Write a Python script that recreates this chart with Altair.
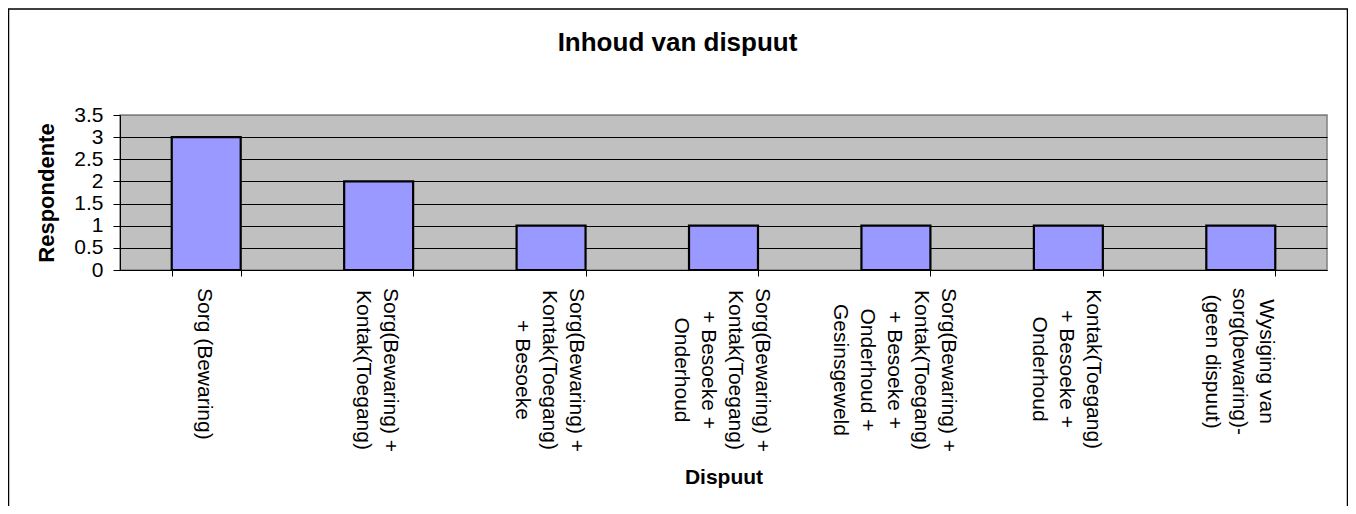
import altair as alt
import pandas as pd

# ---- data ----
categories = [
    "Sorg (Bewaring)",
    "Sorg(Bewaring) +\nKontak(Toegang)",
    "Sorg(Bewaring) +\nKontak(Toegang)\n+ Besoeke",
    "Sorg(Bewaring) +\nKontak(Toegang)\n+ Besoeke +\nOnderhoud",
    "Sorg(Bewaring) +\nKontak(Toegang)\n+ Besoeke +\nOnderhoud +\nGesinsgeweld",
    "Kontak(Toegang)\n+ Besoeke +\nOnderhoud",
    "Wysiging van\nsorg(bewaring)-\n(geen dispuut)",
]
respondente = [3, 2, 1, 1, 1, 1, 1]
y_ticks = [0, 0.5, 1, 1.5, 2, 2.5, 3, 3.5]

title_text = "Inhoud van dispuut"
x_title = "Dispuut"
y_title = "Respondente"

FONT = "Liberation Sans"
LABEL_SIZE = 21
LINE_H = 27

# Arial / Liberation Sans advance widths (per 1000 em) to centre the
# lines of each rotated label block while keeping its top edge fixed.
ARIAL = {
    " ": 278, "(": 333, ")": 333, "+": 584, "-": 333,
    "B": 667, "G": 778, "K": 667, "O": 778, "S": 667, "T": 611, "W": 944,
    "a": 556, "b": 556, "d": 556, "e": 556, "g": 556, "h": 556, "i": 222,
    "k": 500, "l": 222, "n": 556, "o": 556, "p": 556, "r": 333, "s": 500,
    "t": 278, "u": 556, "v": 500, "w": 722, "y": 500,
}


def line_width(s):
    return sum(ARIAL.get(c, 556) for c in s) * LABEL_SIZE / 1000.0


PLOT_W, PLOT_H = 1207, 155
PAD_INNER, PAD_OUTER = 0.6, 0.3
STEP = PLOT_W / (len(categories) - PAD_INNER + 2 * PAD_OUTER)
HALF_BAND = STEP * (1 - PAD_INNER) / 2
LABEL_TOP = 173  # distance from plot top to where the longest line starts

df = pd.DataFrame({"cat": categories, "val": respondente})
lab = pd.DataFrame({
    "cat": categories,
    "ypix": [LABEL_TOP + max(line_width(l) for l in c.split("\n")) / 2 for c in categories],
    # with an xOffset channel the text sits at the band start: move it to the
    # band centre and centre the rotated line block on it
    "xoff": [HALF_BAND + (len(c.split("\n")) - 1) / 2 * LINE_H - 2 for c in categories],
})

x_enc = alt.X(
    "cat:N",
    sort=categories,
    scale=alt.Scale(paddingInner=PAD_INNER, paddingOuter=PAD_OUTER),
    axis=alt.Axis(
        labels=False,
        title=x_title,
        tickBand="extent",
        ticks=True,
        tickSize=6,
        tickColor="black",
        domainColor="black",
        domainWidth=1,
        grid=False,
        titleFontSize=21,
        titleFont=FONT,
        titleFontWeight="bold",
        titleColor="black",
        titleY=213,
        titleBaseline="alphabetic",
    ),
)

bars = alt.Chart(df).mark_bar(
    color="#9999FF", stroke="black", strokeWidth=2.2
).encode(
    x=x_enc,
    y=alt.Y(
        "val:Q",
        scale=alt.Scale(domain=[0, 3.5], nice=False),
        axis=alt.Axis(
            values=y_ticks,
            format="~g",
            title=y_title,
            grid=True,
            gridColor={"condition": {"test": "datum.value >= 3.5", "value": "#808080"}, "value": "black"},
            gridWidth=1,
            gridOpacity=1,
            tickSize=7,
            tickColor="black",
            domainColor="black",
            labelPadding=10,
            labelFontSize=21,
            labelFont=FONT,
            labelColor="black",
            titleFontSize=22,
            titleFont=FONT,
            titleFontWeight="bold",
            titleColor="black",
            titleAngle=-90,
            titleX=-67,
            titleY=PLOT_H / 2,
            titleAlign="center",
            titleBaseline="alphabetic",
        ),
    ),
)

labels = alt.Chart(lab).mark_text(
    angle=90,
    align="center",
    baseline="middle",
    lineBreak="\n",
    fontSize=LABEL_SIZE,
    lineHeight=LINE_H,
    font=FONT,
    color="black",
).encode(
    x=alt.X("cat:N", sort=categories),
    xOffset=alt.XOffset("xoff:Q", scale=None),
    y=alt.Y("ypix:Q", scale=None, axis=None),
    text="cat:N",
)

# outer chart-area border
frame = alt.Chart(alt.Data(values=[{"f": 1}])).mark_rect(
    filled=False, stroke="black", strokeWidth=1.5
).encode(
    x=alt.value(-111.5),
    x2=alt.value(1227.5),
    y=alt.value(-106),
    y2=alt.value(460),
)

# chart title, centred over the whole chart area
title = alt.Chart(alt.Data(values=[{"t": title_text}])).mark_text(
    font=FONT, fontSize=26, fontWeight="bold", color="black",
    align="center", baseline="alphabetic",
).encode(
    text="t:N",
    x=alt.value(557.5),
    y=alt.value(-64),
)

chart = (
    alt.layer(frame, bars, labels, title)
    .resolve_scale(y="independent")
    .properties(
        width=PLOT_W,
        height=PLOT_H,
        autosize="none",
        padding={"left": 112, "top": 107, "right": 21, "bottom": 236},
        background="white",
    )
    .configure_view(fill="#C0C0C0", stroke="#808080", strokeWidth=1.5)
)

chart.save("out.html", embed_options={"renderer": "svg", "actions": False})
